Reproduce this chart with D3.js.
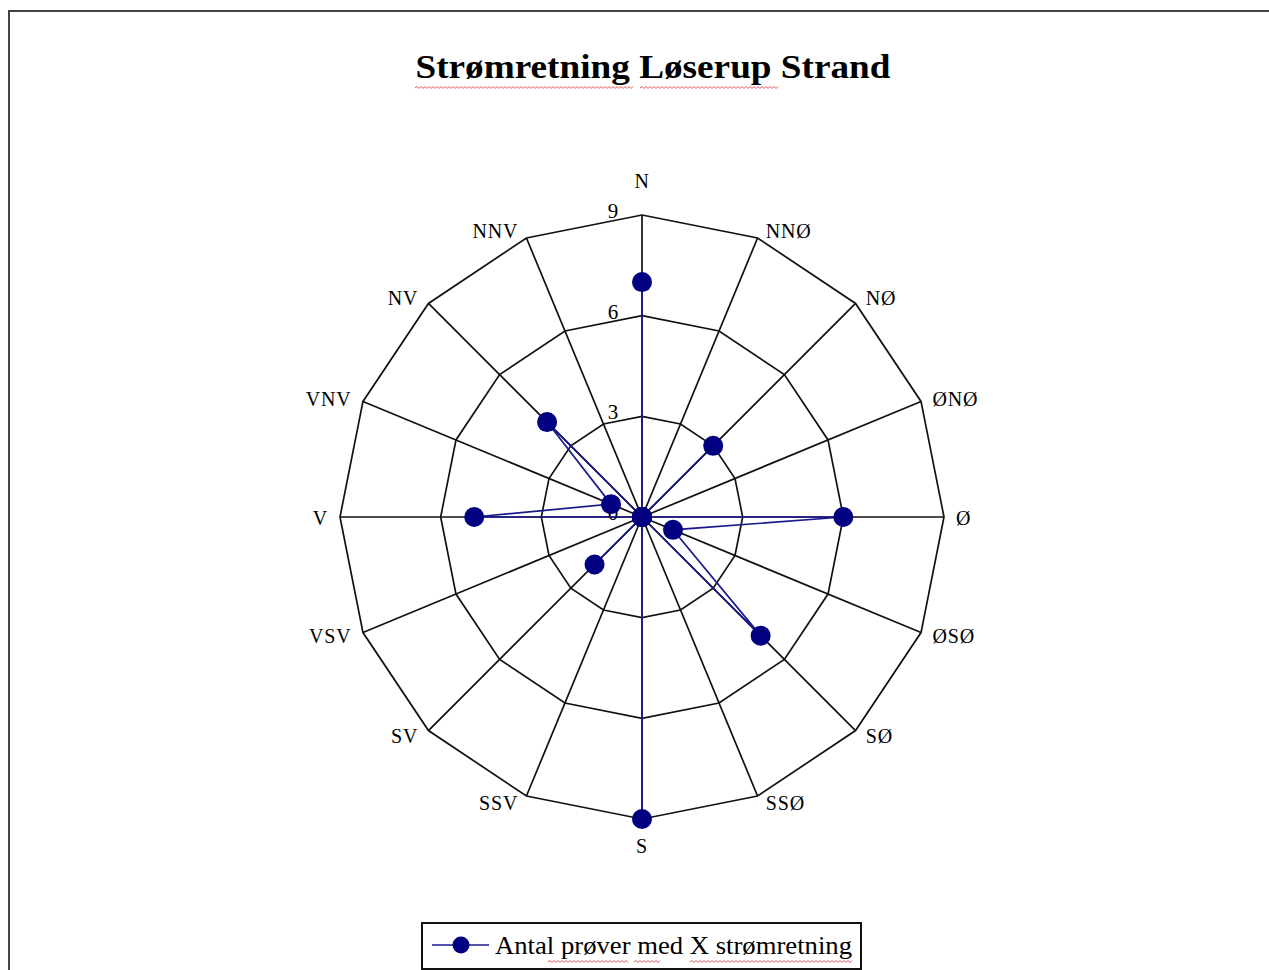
<!DOCTYPE html>
<html>
<head>
<meta charset="utf-8">
<script src="https://cdn.jsdelivr.net/npm/d3@7"></script>
<style>
  html, body { margin: 0; padding: 0; background: #fff; }
  svg { display: block; }
  text { font-family: "Liberation Serif", "Times New Roman", serif; fill: #000; }
</style>
</head>
<body>
<svg id="chart" width="1269" height="970"></svg>
<script>
// data
var directions = ["N", "NNØ", "NØ", "ØNØ", "Ø", "ØSØ", "SØ", "SSØ", "S", "SSV", "SV", "VSV", "V", "VNV", "NV", "NNV"];
var values = [7, 0, 3, 0, 6, 1, 5, 0, 9, 0, 2, 0, 5, 1, 4, 0];
var ticks = [0, 3, 6, 9];
var title = "Strømretning Løserup Strand";
var seriesName = "Antal prøver med X strømretning";

var svg = d3.select("#chart"),
    width = +svg.attr("width"),
    height = +svg.attr("height");

var cx = 642, cy = 517;

var r = d3.scaleLinear().domain([0, 9]).range([0, 302]);
var angle = d3.scaleBand().domain(directions).range([0, 2 * Math.PI]).align(0);
function ang(d) { return angle(d); }  // band start = direction angle, 0 = north

function px(a, rad) { return Math.sin(a) * rad; }
function py(a, rad) { return -Math.cos(a) * rad; }

// outer frame (cropped on the right and bottom)
svg.append("path")
    .attr("d", "M1269,11H9V970")
    .attr("fill", "none")
    .attr("stroke", "#444")
    .attr("stroke-width", 2);

// title
svg.append("text")
    .attr("x", 653)
    .attr("y", 78)
    .attr("text-anchor", "middle")
    .attr("font-size", 34)
    .attr("font-weight", "bold")
    .attr("textLength", 475)
    .attr("lengthAdjust", "spacingAndGlyphs")
    .text(title);

// spell checker squiggles, as in the screenshot
function squiggle(x0, x1, y) {
  var p = d3.path(), up = true;
  p.moveTo(x0, y);
  for (var x = x0 + 2; x <= x1; x += 2) {
    p.lineTo(x, up ? y - 1.5 : y + 0.5);
    up = !up;
  }
  return p.toString();
}
var squiggles = [[415, 633, 88], [640, 778, 88], [548, 628, 962], [634, 660, 962], [690, 853, 962]];

var g = svg.append("g").attr("transform", "translate(" + cx + "," + cy + ")");

// rings
var ring = d3.lineRadial()
    .angle(function(d) { return ang(d); })
    .curve(d3.curveLinearClosed);

g.append("g")
  .selectAll("path")
  .data(ticks.filter(function(t) { return t > 0; }))
  .join("path")
    .attr("d", function(t) { return ring.radius(r(t))(directions); })
    .attr("fill", "none")
    .attr("stroke", "#111")
    .attr("stroke-width", 1.7);

// spokes
g.append("g")
  .selectAll("line")
  .data(directions)
  .join("line")
    .attr("x1", 0)
    .attr("y1", 0)
    .attr("x2", function(d) { return px(ang(d), r(9)); })
    .attr("y2", function(d) { return py(ang(d), r(9)); })
    .attr("stroke", "#111")
    .attr("stroke-width", 1.7);

// tick labels
g.append("g")
  .selectAll("text")
  .data(ticks)
  .join("text")
    .attr("x", -29)
    .attr("y", function(t) { return -r(t) + 3; })
    .attr("text-anchor", "middle")
    .attr("font-size", 21)
    .text(function(t) { return t; });

// direction labels
g.append("g")
  .selectAll("text")
  .data(directions)
  .join("text")
    .attr("x", function(d) {
      var a = ang(d), s = Math.sin(a);
      if (Math.abs(s) < 0.1) return 0;
      return px(a, r(9)) + (s > 0 ? 1 : -1) * (6 + 6 * Math.abs(s));
    })
    .attr("y", function(d) {
      var a = ang(d), c = Math.cos(a);
      if (Math.abs(Math.sin(a)) < 0.1) return py(a, r(9)) + (c > 0 ? -34 : 27);
      return py(a, r(9)) - c * (c > 0 ? 9 : 6) + 1;
    })
    .attr("dy", "0.35em")
    .attr("text-anchor", function(d) {
      var s = Math.sin(ang(d));
      return Math.abs(s) < 0.1 ? "middle" : (s > 0 ? "start" : "end");
    })
    .attr("font-size", 20)
    .attr("letter-spacing", 0.8)
    .text(function(d) { return d; });

// series
var points = directions.map(function(d, i) { return { dir: d, value: values[i] }; });

var line = d3.lineRadial()
    .angle(function(d) { return ang(d.dir); })
    .radius(function(d) { return r(d.value); })
    .curve(d3.curveLinearClosed);

g.append("path")
    .datum(points)
    .attr("d", line)
    .attr("fill", "none")
    .attr("stroke", "#1a1a8c")
    .attr("stroke-width", 1.7);

g.append("g")
  .selectAll("circle")
  .data(points)
  .join("circle")
    .attr("cx", function(d) { return px(ang(d.dir), r(d.value)); })
    .attr("cy", function(d) { return py(ang(d.dir), r(d.value)); })
    .attr("r", 10)
    .attr("fill", "#000080");

// legend
var legend = svg.append("g").attr("transform", "translate(422,923)");
legend.append("rect")
    .attr("width", 439)
    .attr("height", 46)
    .attr("fill", "#fff")
    .attr("stroke", "#111")
    .attr("stroke-width", 2);
legend.append("line")
    .attr("x1", 10).attr("x2", 67)
    .attr("y1", 22).attr("y2", 22)
    .attr("stroke", "#1a1a8c")
    .attr("stroke-width", 1.7);
legend.append("circle")
    .attr("cx", 39).attr("cy", 22)
    .attr("r", 8.5)
    .attr("fill", "#000080");
legend.append("text")
    .attr("x", 73)
    .attr("y", 31)
    .attr("font-size", 26)
    .attr("textLength", 357)
    .attr("lengthAdjust", "spacingAndGlyphs")
    .text(seriesName);

svg.append("g")
  .selectAll("path")
  .data(squiggles)
  .join("path")
    .attr("d", function(d) { return squiggle(d[0], d[1], d[2]); })
    .attr("fill", "none")
    .attr("stroke", "#e05050")
    .attr("stroke-width", 1);
</script>
</body>
</html>
